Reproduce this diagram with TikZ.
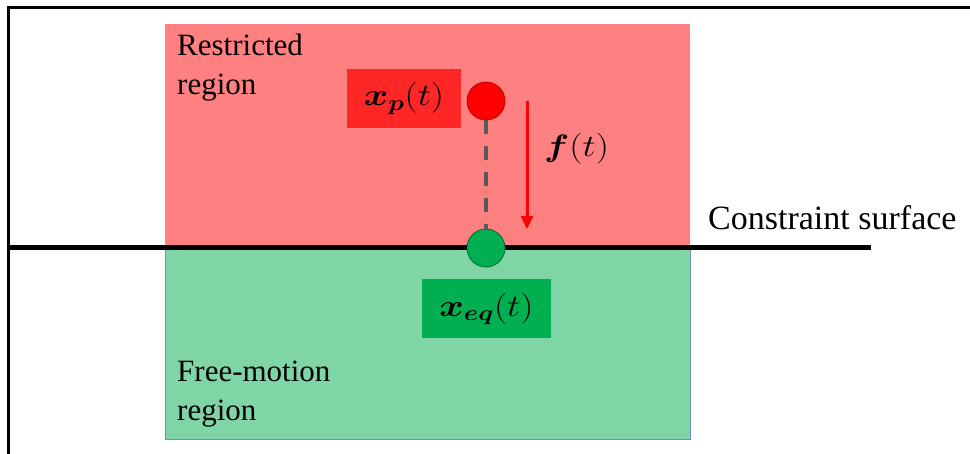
\documentclass[tikz,border=0pt]{standalone}
\usepackage{fix-cm}
\usepackage{amsmath}
\usepackage{bm}
\usepackage{graphicx}
\usepackage{fontspec}
\setmainfont{Liberation Serif}
\usetikzlibrary{arrows.meta}
\definecolor{restrictfill}{RGB}{255,128,128}
\definecolor{freefill}{RGB}{128,213,167}
\definecolor{freeedge}{RGB}{108,142,191}
\definecolor{pointred}{RGB}{255,38,38}
\definecolor{pointgreen}{RGB}{0,176,80}
\definecolor{dashgray}{RGB}{89,89,89}
\newcommand{\widemath}[1]{\scalebox{1.2}[1]{$#1$}}
\begin{document}
\begin{tikzpicture}[x=1pt,y=-1pt,
  regionlabel/.style={anchor=north west,inner sep=0pt,align=left,font=\fontsize{31}{39}\selectfont},
  statebox/.style={minimum height=59pt,inner sep=0pt,font=\fontsize{31}{34}\selectfont},
  dot/.style={circle,minimum size=38pt,inner sep=0pt,line width=0.8pt}]
\useasboundingbox (0,0) rectangle (970,454);
\fill[white] (0,0) rectangle (970,454);
\draw[line width=3pt] (8.5,454) -- (8.5,7.5) -- (970,7.5);
\fill[restrictfill] (165,24) rectangle (690,248);
\draw[freeedge,fill=freefill,line width=1pt] (165,248) rectangle (690,440);
\coordinate (lineL) at (10,248);
\coordinate (lineR) at (871,248);
\draw[line width=5pt] (lineL) -- (lineR);
\node[regionlabel] (restricted) at (177,34) {Restricted\\region};
\node[regionlabel] (free) at (177,361) {Free-motion\\region};
\node[anchor=base west,inner sep=0pt,font=\fontsize{34}{40}\selectfont] (surface) at (708,230) {Constraint surface};
\node[dot,fill=red,draw=red!75!black] (pdot) at (486,101) {};
\node[dot,fill=pointgreen,draw=pointgreen!60!black] (eqdot) at (486,248) {};
\draw[dashgray,line width=4pt,dash pattern=on 14pt off 12pt] (pdot.south) -- (eqdot.north);
\node[statebox,fill=pointred,minimum width=114pt] (xp) at (404,98.5) {\widemath{\bm{x}_{\bm{p}}(t)}};
\node[statebox,fill=pointgreen,minimum width=129pt] (xeq) at (486.5,309) {\widemath{\bm{x}_{\bm{eq}}(t)}};
\coordinate (ftop) at (527,101);
\coordinate (fbot) at (527,229);
\draw[red,line width=3pt,-{Triangle[length=13pt,width=12pt]}] (ftop) -- (fbot);
\node[anchor=west,inner sep=0pt,font=\fontsize{31}{34}\selectfont] (force) at (544,149) {\widemath{\bm{f}(t)}};
\end{tikzpicture}
\end{document}
